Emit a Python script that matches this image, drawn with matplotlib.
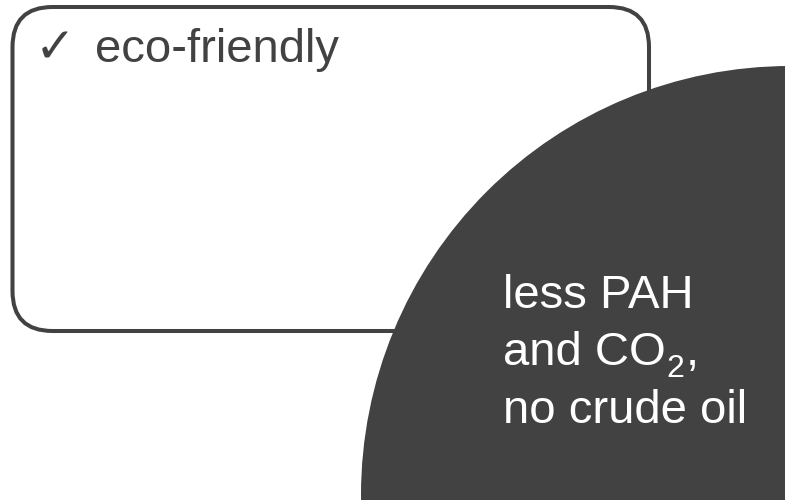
import matplotlib
matplotlib.use('Agg')
import matplotlib.pyplot as plt
from matplotlib.patches import FancyBboxPatch, Circle

# Content
check_mark = '\u2713'
box_label = 'eco-friendly'
circle_lines = ['less PAH', 'and CO', 'no crude oil']
subscript = '2'
after_sub = ','

DARK = '#424242'

plt.rcParams['font.family'] = ['Liberation Sans', 'DejaVu Sans']

fig = plt.figure(figsize=(7.85, 5), dpi=100)
ax = fig.add_axes([0, 0, 1, 1])
ax.set_xlim(0, 785)
ax.set_ylim(500, 0)
ax.axis('off')

# Rounded box
box = FancyBboxPatch((12.5, 7), 636.5, 324, boxstyle='round,pad=0,rounding_size=40',
                     facecolor='white', edgecolor=DARK, linewidth=2.9, zorder=1)
ax.add_patch(box)

# Big circle drawn over the box
circ = Circle((790, 495), 429, facecolor=DARK, edgecolor='none', zorder=2)
ax.add_patch(circ)

ax.text(35, 62, check_mark, family='DejaVu Sans', fontweight='bold', fontsize=35,
        color=DARK, va='baseline', ha='left', zorder=3)
ax.text(95, 62, box_label, fontsize=34, color=DARK, va='baseline', ha='left', zorder=3)

texts = []
for line, y in zip(circle_lines, [308, 365, 423]):
    texts.append(ax.text(503, y, line, fontsize=34, color='white',
                         va='baseline', ha='left', zorder=3))

# subscript 2 and comma after "CO"
fig.canvas.draw()
renderer = fig.canvas.get_renderer()
bb = texts[1].get_window_extent(renderer)
x_end = ax.transData.inverted().transform((bb.x1, bb.y0))[0]
t2 = ax.text(x_end + 1, 377, subscript, fontsize=23, color='white',
             va='baseline', ha='left', zorder=3)
bb2 = t2.get_window_extent(renderer)
x_end2 = ax.transData.inverted().transform((bb2.x1, bb2.y0))[0]
ax.text(x_end2 + 1, 365, after_sub, fontsize=34, color='white',
        va='baseline', ha='left', zorder=3)

fig.savefig('out.png', dpi=100)
